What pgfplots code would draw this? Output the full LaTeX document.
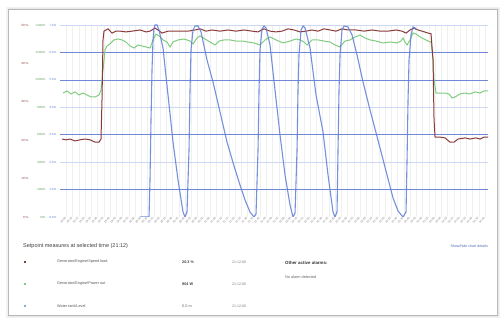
\documentclass[border=0pt]{standalone}
\usepackage{pgfplots}
\pgfplotsset{compat=1.18}
\usepackage{fontspec}
\setmainfont{Liberation Sans}
\definecolor{cbrown}{HTML}{8B3A3A}
\definecolor{cgreen}{HTML}{80CC80}
\definecolor{cblue}{HTML}{5E7ED6}
\definecolor{gstrong}{HTML}{6F89D8}
\definecolor{glight}{HTML}{CDD6F2}

\pgfplotsset{
  base/.style={
    at={(60pt,103pt)}, anchor=south west,
    width=428pt, height=192pt, scale only axis,
    xmin=0, xmax=342.4,
    axis line style={draw=none},
    major tick length=0pt, minor tick length=0pt,
    /pgf/number format/assume math mode=true,
    /pgf/number format/1000 sep={},
    yticklabel style={font=\fontsize{3}{3.5}\selectfont},
  }
}

\begin{document}
\begin{tikzpicture}[x=1pt,y=1pt]
\useasboundingbox (0,0) rectangle (502,320);
\fill[white] (0,0) rectangle (502,320);
\fill[black!5] (6,2) rectangle (500,313);
\fill[black!9] (8,3) rectangle (499,312);
\draw[black!28, fill=white, line width=0.6pt] (8,5) rectangle (497,311);

% blue scale labels, grid, time labels
\begin{axis}[base,
  ymin=0, ymax=7, ytick={0,1,...,7},
  yticklabel={\pgfmathprintnumber[fixed,fixed zerofill,precision=1]{\tick}\,m},
  yticklabel style={text=cblue},
  xtick={5,10,...,340},
  xticklabel={\pgfmathtruncatemacro{\hh}{19+floor(\tick/60)}\pgfmathtruncatemacro{\mm}{mod(\tick,60)}\hh:\ifnum\mm<10 0\fi\mm},
  xticklabel style={font=\fontsize{2.8}{3}\selectfont, text=black!50, rotate=45, anchor=east, inner sep=0.8pt},
  xmajorgrids, major grid style={draw=black!6, line width=0.4pt},
]
\draw[glight, line width=0.6pt] (axis cs:0,0) -- (axis cs:342.4,0);
\draw[glight, line width=0.6pt] (axis cs:0,2) -- (axis cs:342.4,2);
\draw[glight, line width=0.6pt] (axis cs:0,4) -- (axis cs:342.4,4);
\draw[glight, line width=0.6pt] (axis cs:0,7) -- (axis cs:342.4,7);
\draw[gstrong, line width=0.7pt] (axis cs:0,1) -- (axis cs:342.4,1);
\draw[gstrong, line width=0.7pt] (axis cs:0,3) -- (axis cs:342.4,3);
\draw[gstrong, line width=0.7pt] (axis cs:0,5) -- (axis cs:342.4,5);
\draw[gstrong, line width=0.7pt] (axis cs:0,6) -- (axis cs:342.4,6);
\end{axis}

% green scale and data
\begin{axis}[base,
  ymin=0, ymax=1400, ytick={0,200,...,1400},
  yticklabel={\pgfmathprintnumber{\tick}W\,-},
  yticklabel style={text=cgreen!80!black, xshift=-10pt},
  xtick=\empty,
]
\addplot[cgreen, line width=1pt] coordinates {
(2.4,904)(5.6,919)(8.8,897)(12,912)(15.2,890)(18.4,904)(21.6,890)(24.8,875)(28,875)(31.2,890)
(32.8,926)(34.4,1072)(36,1218)(37.6,1247)(40,1262)(43.2,1291)(46.4,1298)(49.6,1291)(52.8,1276)(56,1247)
(59.2,1232)(62.4,1254)(65.6,1247)(68.8,1240)(72,1232)(74.4,1291)(76.8,1334)(79.2,1320)(82.4,1291)(85.6,1276)
(88,1240)(90.4,1276)(94.4,1291)(99.2,1298)(104,1283)(106.4,1262)(109.6,1305)(112,1320)(116,1298)(120,1276)
(124,1254)(127.2,1283)(131.2,1291)(136,1291)(140.8,1283)(145.6,1283)(150.4,1276)(155.2,1269)(160,1254)(164,1291)
(168,1313)(172.8,1291)(178.4,1269)(184,1283)(188.8,1298)(192,1291)(195.2,1276)(197.6,1254)(201.6,1291)(206.4,1291)
(211.2,1283)(216,1276)(220,1254)(224,1240)(228,1283)(232,1291)(236,1313)(240,1327)(244,1305)(248,1291)
(252.8,1283)(258.4,1269)(264,1276)(269.6,1269)(272.8,1283)(274.4,1305)(276,1276)(277.6,1254)(280,1291)(282.4,1342)
(284.8,1334)(288,1313)(291.2,1298)(294.4,1283)(296.8,1276)(298.4,1145)(299.2,999)(300.8,904)(304,904)(308,904)
(311.2,897)(313.6,868)(316,875)(320,897)(324,904)(328,897)(332,912)(336,904)(339.2,919)(342.4,919)
};
\end{axis}

% brown scale and data
\begin{axis}[base,
  ymin=0, ymax=50, ytick={0,10,...,50},
  yticklabel={\pgfmathprintnumber{\tick}\,\%\,-},
  yticklabel style={text=cbrown, xshift=-27pt},
  xtick=\empty,
]
\addplot[cbrown, line width=1pt] coordinates {
(1.6,20.3)(4.8,20.1)(8,20.3)(12,19.8)(16,20.1)(20,20.3)(24,20.1)(28,19.5)(31.2,19.5)(32.8,20.3)
(33.6,30.5)(34.4,46.1)(35.2,48.4)(38.4,49.0)(41.6,47.9)(44.8,48.4)(48,48.4)(52.8,48.2)(57.6,48.4)(64,48.7)
(68.8,48.2)(72,48.4)(76,49.2)(78.4,48.7)(81.6,47.9)(86.4,48.4)(92,48.4)(97.6,48.4)(102.4,48.4)(108,48.7)
(112,49.0)(116.8,48.4)(121.6,48.7)(128,48.4)(134.4,48.7)(140.8,48.4)(147.2,48.7)(153.6,48.4)(158.4,48.2)(163.2,49.0)
(168,48.4)(172.8,48.2)(177.6,48.4)(182.4,49.0)(187.2,48.7)(192,48.2)(196.8,48.4)(201.6,48.7)(206.4,48.4)(211.2,49.0)
(216,48.7)(220.8,48.4)(225.6,49.0)(230.4,48.7)(236.8,48.7)(243.2,48.4)(249.6,48.7)(256,48.4)(262.4,48.4)(268.8,48.7)
(273.6,48.4)(276.8,47.9)(280,48.7)(283.2,49.2)(286.4,48.7)(289.6,48.4)(294.4,47.9)(296.8,47.7)(298.4,40.9)(299.2,25.3)
(300,20.8)(304,20.8)(308,20.6)(312,19.5)(315.2,19.5)(318.4,20.3)(324,20.6)(328,20.3)(332.8,20.6)(336,20.3)
(339.2,20.8)(342.4,20.8)
};
\end{axis}

% blue data
\begin{axis}[base, ymin=0, ymax=7, hide axis]
\draw[gstrong, line width=0.8pt] (axis cs:0,1) -- (axis cs:342.4,1);
\addplot[cblue, line width=1.1pt, opacity=0.85] coordinates {
(64,0)(70.4,0)(71.2,0)(72,1.349)(72.8,3.536)(73.6,5.359)(74.4,6.453)(75.2,6.891)(76,7.0)(77.6,7.0)
(79.2,6.818)(82.4,6.161)(86.4,4.448)(90.4,2.734)(94.4,1.349)(98.4,0.182)(100,0)(101.6,0.182)(103.2,2.443)(104,4.630)
(104.8,6.089)(106.4,6.818)(108,6.964)(110.4,6.964)(112.8,6.745)(117.6,5.724)(122.4,4.922)(128,3.828)(133.6,2.734)(139.2,1.859)
(144,1.167)(148,0.620)(152,0.182)(155.2,0)(156.8,0.109)(158.4,2.443)(159.2,4.630)(160,6.089)(161.6,6.854)(163.2,6.964)
(164.8,6.891)(168,6.271)(172,4.630)(176,2.990)(180,1.531)(184,0.438)(186.4,0)(188,0.146)(189.6,2.443)(190.4,4.630)
(191.2,5.906)(192.8,6.818)(194.4,6.964)(196,6.891)(200,6.161)(204.8,4.448)(210.4,3.099)(214.4,1.531)(218.4,0.182)(220,0)
(221.6,0.182)(222.4,2.443)(223.2,4.630)(224,5.906)(225.6,6.818)(227.2,6.964)(230.4,6.927)(233.6,6.635)(237.6,5.906)(242.4,4.922)
(248,3.901)(256,2.516)(261.6,1.531)(266.4,0.693)(270.4,0.219)(274.4,0)(276.8,0.182)(277.6,2.078)(278.4,4.266)(279.2,5.724)
(280.8,6.635)(282.4,6.927)(284,6.891)(284.8,6.818)
};
\end{axis}

\node[anchor=west, font=\fontsize{5.5}{6}\selectfont, text=black!75, inner sep=0] at (23,74) {Setpoint measures at selected time (21:12)};
\node[anchor=east, font=\fontsize{3.6}{4}\selectfont, text=cblue!85!black, inner sep=0] at (488,74) {Show/hide chart details};

\fill[cbrown] (23.5,57) rectangle (25.5,59);
\fill[cgreen] (23.5,35) rectangle (25.5,37);
\fill[cblue!70] (23.5,13) rectangle (25.5,15);

\node[anchor=west, font=\fontsize{3.8}{4}\selectfont, text=black!65, inner sep=0] at (57,58) {Generator/Engine/Speed load};
\node[anchor=west, font=\fontsize{3.8}{4}\selectfont, text=black!65, inner sep=0] at (57,36) {Generator/Engine/Power out};
\node[anchor=west, font=\fontsize{3.8}{4}\selectfont, text=black!65, inner sep=0] at (57,14) {Water tank/Level};

\node[anchor=west, font=\bfseries\fontsize{3.8}{4}\selectfont, text=black!75, inner sep=0] at (182,58) {20.3 \%};
\node[anchor=west, font=\bfseries\fontsize{3.8}{4}\selectfont, text=black!75, inner sep=0] at (182,36) {904 W};
\node[anchor=west, font=\fontsize{3.8}{4}\selectfont, text=black!60, inner sep=0] at (182,14) {0.0 m};

\node[anchor=west, font=\fontsize{3.6}{4}\selectfont, text=black!50, inner sep=0] at (232,58) {21:12:00};
\node[anchor=west, font=\fontsize{3.6}{4}\selectfont, text=black!50, inner sep=0] at (232,36) {21:12:00};
\node[anchor=west, font=\fontsize{3.6}{4}\selectfont, text=black!50, inner sep=0] at (232,14) {21:12:00};

\node[anchor=west, font=\bfseries\fontsize{4.4}{5}\selectfont, text=black!80, inner sep=0] at (285,57) {Other active alarms:};
\node[anchor=west, font=\fontsize{3.8}{4}\selectfont, text=black!60, inner sep=0] at (285,43) {No alarm detected};
\end{tikzpicture}
\end{document}
